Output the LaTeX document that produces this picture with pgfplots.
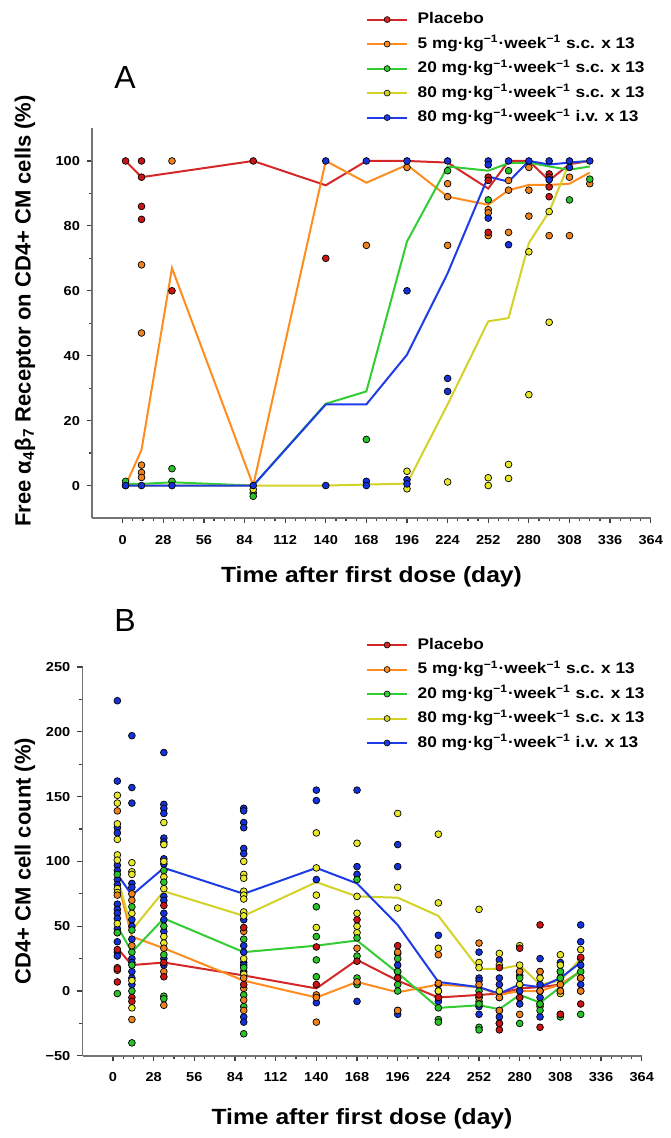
\documentclass[border=0pt]{standalone}
\usepackage{fontspec}
\setmainfont{Liberation Sans}[FakeStretch=1.12]
\newfontfamily\plainsans{Liberation Sans}
\usepackage{pgfplots}
\pgfplotsset{compat=1.18}

\definecolor{lred}{RGB}{212,40,40}
\definecolor{lorange}{RGB}{255,140,30}
\definecolor{lgreen}{RGB}{50,205,50}
\definecolor{lyellow}{RGB}{210,210,40}
\definecolor{lblue}{RGB}{30,60,230}
\definecolor{mred}{RGB}{205,20,20}
\definecolor{morange}{RGB}{240,130,30}
\definecolor{mgreen}{RGB}{40,195,40}
\definecolor{myellow}{RGB}{232,232,40}
\definecolor{mblue}{RGB}{20,50,220}

\pgfplotsset{
  myaxis/.style={
    scale only axis,
    axis lines=left,
    axis line style={-, draw=black!55, line width=0.9pt},
    xmin=-21, xmax=364,
    xtick={0,28,...,364},
    minor x tick num=3,
    minor y tick num=1,
    tick align=outside,
    major tick length=2.6pt,
    minor tick length=1.6pt,
    tick style={black!75, line width=0.6pt},
    tick label style={font=\bfseries\fontsize{6.5}{7}\selectfont},
    xticklabel style={yshift=-2.4pt},
    /pgf/number format/assume math mode=true,
    clip=false,
    legend cell align=left,
    legend style={draw=none, fill=none, anchor=north west,
      font=\bfseries\fontsize{7.7}{9}\selectfont,
      nodes={inner sep=0pt, text height=6.2pt, text depth=1.8pt},
      column sep=4.8pt, row sep=4.25pt},
    legend image code/.code={
      \draw[##1] (0pt,0pt) -- (20pt,0pt);
      \filldraw[##1, draw=black, line width=0.3pt] (10pt,0pt) circle (1.5pt);
    },
  },
  pt/.style={only marks, mark=*, mark size=1.7pt,
    mark options={fill=#1, draw=black, line width=0.35pt}, forget plot},
  ln/.style={color=#1, line width=1pt, mark=none},
}

\begin{document}
\begin{tikzpicture}
\path[use as bounding box] (0pt,0pt) rectangle (335pt,-569pt);

% ---------------- Panel A ----------------
\begin{axis}[myaxis,
  at={(46.1pt,-259pt)}, anchor=south west,
  width=279.25pt, height=194.75pt,
  ymin=-10, ymax=110, ytick={0,20,...,100},
  legend style={at={(0.479,1.3115)}},
]
\addplot[ln=lred] coordinates {(2,100) (13,95) (90,100) (140,92.5) (168,100) (196,100) (224,99.5) (252,91.5) (266,100) (280,100) (294,94) (308,99) (322,100)};
\addlegendentry{Placebo}
\addplot[ln=lorange] coordinates {(2,0) (13,11) (34,67) (90,0) (140,100) (168,93.3) (196,98.8) (224,89) (252,86.5) (266,91) (280,92.6) (294,92.6) (308,93) (322,96.4)};
\addlegendentry{5 mg·kg\textsuperscript{−1}·week\textsuperscript{−1} s.c. x 13}
\addplot[ln=lgreen] coordinates {(2,0.5) (13,0.5) (34,1) (90,0) (140,25.2) (168,29) (196,75.2) (224,98.3) (252,97) (266,99.3) (280,99.5) (294,98.3) (308,97.3) (322,98.3)};
\addlegendentry{20 mg·kg\textsuperscript{−1}·week\textsuperscript{−1} s.c. x 13}
\addplot[ln=lyellow] coordinates {(2,0) (13,0) (34,0) (90,0) (140,0) (168,0.3) (196,0.6) (224,25) (252,50.6) (266,51.6) (280,74.7) (294,84.4) (308,99.5) (322,100)};
\addlegendentry{80 mg·kg\textsuperscript{−1}·week\textsuperscript{−1} s.c. x 13}
\addplot[ln=lblue] coordinates {(2,0) (13,0) (34,0) (90,0) (140,25) (168,25) (196,40.3) (224,65.4) (252,95.2) (266,93.6) (280,100) (294,98.9) (308,99.5) (322,100)};
\addlegendentry{80 mg·kg\textsuperscript{−1}·week\textsuperscript{−1} i.v. x 13}

\addplot[pt=morange] coordinates {(2,0) (13,68) (13,47) (13,6.3) (13,4) (13,2.5) (34,100) (168,74) (196,98) (224,93) (224,89) (224,74) (252,85) (252,84) (252,77) (266,94) (266,91) (266,78) (280,98) (280,91) (280,83) (294,77) (308,95) (308,77) (322,93)};
\addplot[pt=mred] coordinates {(2,100) (13,100) (13,95) (13,86) (13,82) (34,60) (90,100) (140,70) (252,95) (252,94) (252,78) (294,96) (294,95) (294,92) (294,89)};
\addplot[pt=mgreen] coordinates {(2,1.3) (34,5.2) (34,1.3) (90,-2.3) (90,-3.3) (168,14.2) (224,97) (252,88) (266,97) (308,88) (322,94.4)};
\addplot[pt=myellow] coordinates {(90,-1.2) (196,4.4) (196,-1) (224,1.1) (252,2.4) (252,0) (266,6.5) (266,2.2) (280,72) (280,28) (294,84.4) (294,50.3)};
\addplot[pt=mblue] coordinates {(2,0) (13,0) (34,0) (90,0) (140,100) (140,0) (168,100) (168,1.3) (168,0) (196,100) (196,60) (196,1.8) (196,0.5) (224,100) (224,33) (224,29) (252,100) (252,98.8) (252,82.4) (266,100) (266,74.2) (280,100) (294,100) (294,94.2) (308,100) (308,98) (322,100)};
\end{axis}

% ---------------- Panel B ----------------
\begin{axis}[myaxis,
  at={(41.25pt,-527.9pt)}, anchor=south west,
  width=279.6pt, height=194.4pt,
  ymin=-50, ymax=250, ytick={-50,0,...,250},
  yticklabels={−50,0,50,100,150,200,250},
  legend style={at={(0.4957,1.0885)}},
]
\addplot[pt=mblue] coordinates {
(3,224) (3,162) (3,126) (3,122) (3,97) (3,93) (3,86) (3,82) (3,67) (3,63) (3,60) (3,56) (3,48) (3,38) (3,30) (3,27)
(13,197) (13,157) (13,145) (13,83) (13,80) (13,55) (13,50) (13,40) (13,25) (13,22) (13,15) (13,10) (13,5)
(35,184) (35,144) (35,141) (35,137) (35,118) (35,115) (35,102) (35,98) (35,73) (35,70) (35,60) (35,55) (35,46) (35,25) (35,20)
(90,141) (90,139) (90,130) (90,126) (90,110) (90,106) (90,55) (90,35) (90,30) (90,22) (90,20) (90,15) (90,-20) (90,-24)
(140,155) (140,147) (140,86) (140,-9)
(168,155) (168,96) (168,90) (168,-8)
(196,113) (196,96) (196,20) (196,15) (196,-15) (196,-18)
(224,43) (224,5) (224,0) (224,-5) (224,-8)
(252,30) (252,10) (252,8) (252,-5) (252,-12) (252,-18)
(266,24) (266,10) (266,5) (266,-5) (266,-20)
(280,15) (280,12) (280,5) (280,0) (280,-10)
(294,25) (294,15) (294,5) (294,-5) (294,-10) (294,-20)
(308,22) (308,15) (308,10) (308,5) (308,0)
(322,51) (322,38) (322,20) (322,10) (322,5)};
\addplot[pt=myellow] coordinates {
(3,151) (3,145) (3,129) (3,117) (3,105) (3,101) (3,79) (3,76) (3,52) (3,45)
(13,99) (13,92) (13,90) (13,60) (13,8) (13,-13)
(35,130) (35,113) (35,100) (35,88) (35,79) (35,42) (35,37)
(90,100) (90,90) (90,87) (90,77) (90,74) (90,71) (90,61) (90,58) (90,25) (90,13)
(140,122) (140,95) (140,74) (140,49)
(168,114) (168,73) (168,60) (168,50) (168,45)
(196,137) (196,80) (196,64) (196,10)
(224,121) (224,68) (224,33) (224,0)
(252,63) (252,22) (252,18) (252,-8)
(266,29) (266,20) (266,0)
(280,35) (280,20) (280,5)
(294,10) (294,0) (294,-12)
(308,28) (308,20) (308,-2)
(322,32) (322,25) (322,0)};
\addplot[pt=mgreen] coordinates {
(3,90) (3,45) (3,-2)
(13,65) (13,47) (13,30) (13,20) (13,0) (13,-40)
(35,93) (35,84) (35,50) (35,28) (35,-4) (35,-6)
(90,40) (90,18) (90,-3) (90,-12) (90,-33)
(140,65) (140,42) (140,24) (140,11)
(168,86) (168,41) (168,27) (168,10) (168,5)
(196,29) (196,25) (196,15) (196,5) (196,0)
(224,-13) (224,-22) (224,-24)
(252,0) (252,-10) (252,-28) (252,-30)
(266,-15) (266,-25)
(280,10) (280,-5) (280,-25)
(294,0) (294,-10) (294,-15)
(308,15) (308,10) (308,-18) (308,-20)
(322,15) (322,10) (322,-18)};
\addplot[pt=morange] coordinates {
(3,139) (3,74) (3,18) (3,16)
(13,75) (13,70) (13,35) (13,-22)
(35,33) (35,15) (35,-11)
(90,46) (90,10) (90,2) (90,-7) (90,-15)
(140,-3) (140,-5) (140,-24)
(168,33) (168,7)
(196,30) (196,-15)
(224,28) (224,6)
(252,37) (252,5) (252,-5)
(266,-15) (266,-5)
(280,15) (280,-18)
(294,15) (294,0)
(308,5) (308,0)
(322,10) (322,0)};
\addplot[pt=mred] coordinates {
(3,32) (3,17) (3,7)
(13,-5) (13,-8)
(35,66) (35,22) (35,11)
(90,49) (90,5)
(140,34) (140,5)
(168,55) (168,23)
(196,35) (196,10)
(224,-5)
(252,-3)
(266,18) (266,-25) (266,-30)
(280,33) (280,-5)
(294,51) (294,-28)
(308,-18)
(322,26) (322,-10)};

\addplot[ln=lred] coordinates {(3,33) (13,20) (35,22) (90,12) (140,2) (168,24) (196,8) (224,-5) (252,-3) (266,-2) (280,2) (294,3) (308,5) (322,15)};
\addlegendentry{Placebo}
\addplot[ln=lorange] coordinates {(3,85) (13,42) (35,33) (90,8) (140,-5) (168,7) (196,-1) (224,5) (252,3) (266,-3) (280,0) (294,0) (308,5) (322,15)};
\addlegendentry{5 mg·kg\textsuperscript{−1}·week\textsuperscript{−1} s.c. x 13}
\addplot[ln=lgreen] coordinates {(3,50) (13,30) (35,56) (90,30) (140,35) (168,39) (196,14) (224,-13) (252,-11) (266,-14) (280,-3) (294,-9) (308,3) (322,16)};
\addlegendentry{20 mg·kg\textsuperscript{−1}·week\textsuperscript{−1} s.c. x 13}
\addplot[ln=lyellow] coordinates {(3,88) (13,47) (35,77) (90,58) (140,84) (168,73) (196,72) (224,58) (252,17) (266,17) (280,20) (294,5) (308,8) (322,25)};
\addlegendentry{80 mg·kg\textsuperscript{−1}·week\textsuperscript{−1} s.c. x 13}
\addplot[ln=lblue] coordinates {(3,90) (13,74) (35,95) (90,75) (140,95) (168,83) (196,51) (224,7) (252,3) (266,-2) (280,5) (294,3) (308,10) (322,22)};
\addlegendentry{80 mg·kg\textsuperscript{−1}·week\textsuperscript{−1} i.v. x 13}
\end{axis}

% ---------------- Labels ----------------
\node[font=\plainsans\fontsize{16}{18}\selectfont] at (62.5pt,-38.5pt) {A};
\node[font=\plainsans\fontsize{16}{18}\selectfont] at (62.5pt,-310pt) {B};
\node[font=\bfseries\fontsize{11}{13}\selectfont] at (185.75pt,-288.5pt) {Time after first dose (day)};
\node[font=\bfseries\fontsize{11}{13}\selectfont] at (181pt,-559.5pt) {Time after first dose (day)};
\node[rotate=90, font=\plainsans\bfseries\fontsize{11}{13}\selectfont] at (12.5pt,-155.5pt) {Free α\textsubscript{4}β\textsubscript{7} Receptor on CD4+ CM cells (\%)};
\node[rotate=90, font=\plainsans\bfseries\fontsize{11}{13}\selectfont] at (12.5pt,-430.5pt) {CD4+ CM cell count (\%)};
\end{tikzpicture}
\end{document}
